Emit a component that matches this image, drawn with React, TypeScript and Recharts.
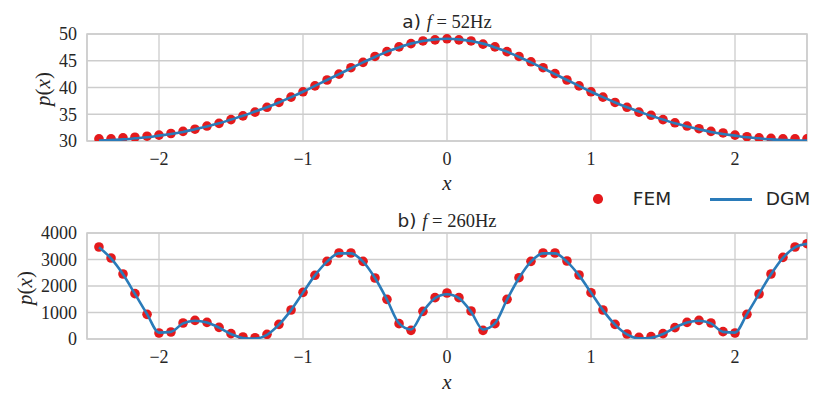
import React from 'react'
import {
  ComposedChart,
  Scatter,
  XAxis,
  YAxis,
  CartesianGrid,
  ReferenceArea,
} from 'recharts'

const xs = [
  -2.417, -2.333, -2.25, -2.167, -2.083, -2.0, -1.917, -1.833, -1.75, -1.667,
  -1.583, -1.5, -1.417, -1.333, -1.25, -1.167, -1.083, -1.0, -0.917, -0.833,
  -0.75, -0.667, -0.583, -0.5, -0.417, -0.333, -0.25, -0.167, -0.083, 0,
  0.083, 0.167, 0.25, 0.333, 0.417, 0.5, 0.583, 0.667, 0.75, 0.833,
  0.917, 1.0, 1.083, 1.167, 1.25, 1.333, 1.417, 1.5, 1.583, 1.667,
  1.75, 1.833, 1.917, 2.0, 2.083, 2.167, 2.25, 2.333, 2.417, 2.5,
]

// a) f = 52Hz
const femA = [
  30.4, 30.4, 30.6, 30.7, 30.9, 31.1, 31.4, 31.8, 32.2, 32.8,
  33.3, 34.0, 34.7, 35.4, 36.3, 37.2, 38.2, 39.2, 40.3, 41.4,
  42.5, 43.7, 44.7, 45.8, 46.7, 47.6, 48.2, 48.7, 48.9, 49.1,
  48.9, 48.7, 48.1, 47.6, 46.7, 45.8, 44.8, 43.7, 42.6, 41.4,
  40.3, 39.2, 38.2, 37.2, 36.3, 35.4, 34.8, 34.0, 33.4, 32.8,
  32.3, 31.8, 31.5, 31.1, 30.8, 30.6, 30.5, 30.4, 30.4, 30.4,
]
const dgmA = [
  30.1, 30.2, 30.3, 30.5, 30.7, 31.0, 31.3, 31.7, 32.2, 32.7,
  33.3, 34.0, 34.7, 35.5, 36.3, 37.2, 38.2, 39.2, 40.3, 41.4,
  42.5, 43.6, 44.7, 45.7, 46.7, 47.5, 48.2, 48.7, 49.0, 49.1,
  49.0, 48.7, 48.2, 47.5, 46.7, 45.7, 44.7, 43.6, 42.5, 41.4,
  40.3, 39.2, 38.2, 37.2, 36.3, 35.5, 34.7, 34.0, 33.3, 32.7,
  32.2, 31.7, 31.3, 31.0, 30.7, 30.5, 30.3, 30.2, 30.1, 30.1,
]

// b) f = 260Hz
const femB = [
  3472, 3057, 2453, 1711, 931, 226, 264, 604, 704, 629,
  440, 201, 75, 50, 176, 553, 1094, 1761, 2403, 2931,
  3245, 3245, 2931, 2302, 1497, 579, 327, 1044, 1560, 1736,
  1560, 1057, 327, 579, 1497, 2314, 2931, 3245, 3245, 2943,
  2415, 1748, 1094, 553, 189, 63, 88, 201, 428, 629,
  704, 604, 277, 226, 931, 1698, 2453, 3082, 3472, 3597,
]
const dgmB = [
  3460, 3040, 2440, 1700, 940, 240, 270, 590, 690, 620,
  430, 190, 40, 20, 160, 540, 1090, 1750, 2400, 2920,
  3230, 3230, 2920, 2300, 1490, 590, 360, 1030, 1540, 1690,
  1540, 1030, 360, 590, 1490, 2300, 2920, 3230, 3230, 2920,
  2400, 1750, 1090, 540, 170, 25, 45, 190, 430, 620,
  690, 590, 270, 240, 940, 1700, 2440, 3060, 3460, 3590,
]

const xTicks = [-2, -1, 0, 1, 2]
const yTicksA = [30, 35, 40, 45, 50]
const yTicksB = [0, 1000, 2000, 3000, 4000]

const RED = '#e41a1c'
const BLUE = '#2a7bb9'
const GRID = '#cdcdcd'
const TEXT = '#262626'
const SERIF = '"Liberation Serif", "DejaVu Serif", serif'
const SANS = '"DejaVu Sans", sans-serif'

const toRows = (vals: number[]) => xs.map((x, i) => ({ x, p: vals[i] }))

const tickStyle = { fontSize: 18, fontFamily: SERIF, fill: TEXT }

interface PanelProps {
  fem: number[]
  dgm: number[]
  yTicks: number[]
  height: number
  marginTop: number
  xAxisHeight: number
}

function Panel({ fem, dgm, yTicks, height, marginTop, xAxisHeight }: PanelProps) {
  const yMin = yTicks[0]
  const yMax = yTicks[yTicks.length - 1]
  return (
    <ComposedChart width={830} height={height} margin={{ top: marginTop, right: 23, left: 0, bottom: 0 }}>
      <CartesianGrid stroke={GRID} strokeWidth={1.3} />
      <ReferenceArea
        x1={-2.5}
        x2={2.5}
        y1={yMin}
        y2={yMax}
        fill="none"
        stroke={GRID}
        strokeWidth={1.6}
        ifOverflow="visible"
      />
      <XAxis
        type="number"
        dataKey="x"
        domain={[-2.5, 2.5]}
        allowDataOverflow
        ticks={xTicks}
        height={xAxisHeight}
        axisLine={false}
        tickLine={false}
        tickSize={6}
        tickMargin={5}
        tick={tickStyle}
        tickFormatter={(v: number) => String(v).replace('-', '\u2212')}
      />
      <YAxis
        type="number"
        dataKey="p"
        domain={[yMin, yMax]}
        allowDataOverflow
        ticks={yTicks}
        width={87}
        axisLine={false}
        tickLine={false}
        tickSize={6}
        tickMargin={4}
        tick={tickStyle}
      />
      {/* FEM points */}
      <Scatter
        data={toRows(fem)}
        fill={RED}
        isAnimationActive={false}
        shape={(p: any) => <circle cx={p.cx} cy={p.cy} r={4.8} fill={RED} />}
      />
      {/* DGM curve, drawn over the points */}
      <Scatter
        data={toRows(dgm)}
        line={{ stroke: BLUE, strokeWidth: 2.6 }}
        lineJointType="monotoneX"
        fill={BLUE}
        isAnimationActive={false}
        shape={() => <g />}
      />
    </ComposedChart>
  )
}

const abs = (left: number, top: number): React.CSSProperties => ({
  position: 'absolute',
  left,
  top,
  transform: 'translate(-50%, -50%)',
  whiteSpace: 'nowrap',
  color: TEXT,
  lineHeight: 1,
})

function Title({ label, freq, left, top }: { label: string; freq: string; left: number; top: number }) {
  return (
    <div style={{ ...abs(left, top), fontSize: 18.5 }}>
      <span style={{ fontFamily: SANS }}>{label} </span>
      <span style={{ fontFamily: SERIF, fontStyle: 'italic' }}>f</span>
      <span style={{ fontFamily: SERIF }}> = {freq}Hz</span>
    </div>
  )
}

function YLabel({ left, top }: { left: number; top: number }) {
  return (
    <div style={{ ...abs(left, top), transform: 'translate(-50%, -50%) rotate(-90deg)', fontFamily: SERIF, fontSize: 21 }}>
      <i>p</i>(<i>x</i>)
    </div>
  )
}

function XLabel({ left, top }: { left: number; top: number }) {
  return <div style={{ ...abs(left, top), fontFamily: SERIF, fontSize: 21, fontStyle: 'italic' }}>x</div>
}

export default function App() {
  return (
    <div style={{ position: 'fixed', left: 0, top: 0, width: 830, height: 404, background: '#fff', overflow: 'hidden' }}>
      <div style={{ position: 'absolute', left: 0, top: 0 }}>
        <Panel fem={femA} dgm={dgmA} yTicks={yTicksA} height={200} marginTop={34} xAxisHeight={59} />
      </div>
      <div style={{ position: 'absolute', left: 0, top: 200 }}>
        <Panel fem={femB} dgm={dgmB} yTicks={yTicksB} height={204} marginTop={33} xAxisHeight={65} />
      </div>

      <Title label="a)" freq="52" left={447} top={22} />
      <Title label="b)" freq="260" left={447} top={221} />
      <YLabel left={43} top={89} />
      <YLabel left={25} top={288} />
      <XLabel left={447} top={183} />
      <XLabel left={447} top={382} />

      {/* legend */}
      <div style={{ position: 'absolute', left: 593, top: 194, width: 9.5, height: 9.5, borderRadius: '50%', background: RED }} />
      <div style={{ ...abs(652, 199), fontFamily: SANS, fontSize: 18.5 }}>FEM</div>
      <div style={{ position: 'absolute', left: 710, top: 198, width: 42, height: 2.6, background: BLUE }} />
      <div style={{ ...abs(788, 199), fontFamily: SANS, fontSize: 18.5 }}>DGM</div>
    </div>
  )
}
